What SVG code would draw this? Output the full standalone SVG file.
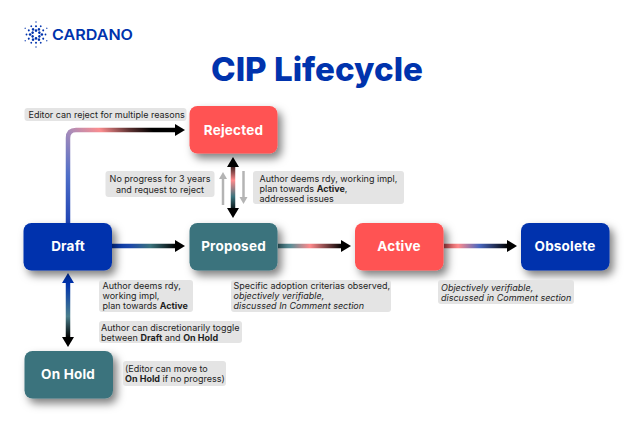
<svg xmlns="http://www.w3.org/2000/svg" xmlns:xlink="http://www.w3.org/1999/xlink" width="640" height="428" viewBox="0 0 640 428">
<style>
text{font-family:"Inter","Liberation Sans",sans-serif}
.blue{fill:#0033ad}.teal{fill:#3b737d}.red{fill:#ff5252}
.nl{fill:#fff;font-weight:700;font-size:13.5px;text-anchor:middle;letter-spacing:.2px}
.lb{fill:#e4e4e4}
.t{fill:#1e1e1e;font-size:9px}
.t .b{font-weight:700}
.i{font-style:italic}
.c{fill:none;stroke-width:4.5}
.g{fill:none;stroke:#b4b4b4;stroke-width:2.5}
.d{fill:#0033ad}
</style>
<defs>
<filter id="sh" x="-20%" y="-30%" width="150%" height="170%"><feDropShadow dx="4" dy="5" stdDeviation="4" flood-color="#000" flood-opacity=".5"/></filter>
<marker id="ab" markerUnits="userSpaceOnUse" markerWidth="11" markerHeight="13" refX="1" refY="6" orient="auto"><path d="M0,0L10,6L0,12Z" fill="#000"/></marker>
<marker id="ag" markerUnits="userSpaceOnUse" markerWidth="8" markerHeight="9" refX="1" refY="4" orient="auto"><path d="M0,0L7,4L0,8Z" fill="#b4b4b4"/></marker>
<linearGradient id="g1" gradientUnits="userSpaceOnUse" x1="68" y1="223" x2="175" y2="130"><stop offset="0" stop-color="#1f44b4"/><stop offset=".22" stop-color="#4f6fc8"/><stop offset=".43" stop-color="#a88cba"/><stop offset=".6" stop-color="#fb8d8f"/><stop offset=".76" stop-color="#5a3030"/><stop offset=".88" stop-color="#000"/></linearGradient>
<linearGradient id="g2" gradientUnits="userSpaceOnUse" x1="112" y1="0" x2="176" y2="0"><stop offset="0" stop-color="#0033ad"/><stop offset=".3" stop-color="#1e4aa8"/><stop offset=".6" stop-color="#3b737d"/><stop offset="1" stop-color="#000"/></linearGradient>
<linearGradient id="g3" gradientUnits="userSpaceOnUse" x1="278" y1="0" x2="342" y2="0"><stop offset="0" stop-color="#3b737d"/><stop offset=".2" stop-color="#5f8f98"/><stop offset=".5" stop-color="#ff8a8c"/><stop offset="1" stop-color="#000"/></linearGradient>
<linearGradient id="g4" gradientUnits="userSpaceOnUse" x1="444" y1="0" x2="508" y2="0"><stop offset="0" stop-color="#c04a50"/><stop offset=".22" stop-color="#ff8a8c"/><stop offset=".55" stop-color="#4a68c0"/><stop offset="1" stop-color="#000"/></linearGradient>
<linearGradient id="g5" gradientUnits="userSpaceOnUse" x1="0" y1="164" x2="0" y2="212"><stop offset="0" stop-color="#1a0a0a"/><stop offset=".34" stop-color="#ff8a8c"/><stop offset=".68" stop-color="#3b737d"/><stop offset="1" stop-color="#000"/></linearGradient>
<linearGradient id="g6" gradientUnits="userSpaceOnUse" x1="0" y1="284" x2="0" y2="338"><stop offset="0" stop-color="#0033ad"/><stop offset=".6" stop-color="#4b7f8c"/><stop offset="1" stop-color="#000"/></linearGradient>
<g id="rayA" fill="#0033ad"><circle cx="36" cy="30.6" r="1.3"/><circle cx="36" cy="26.2" r="1"/><circle cx="36" cy="22" r=".7"/></g>
<g id="rayB" fill="#0033ad"><circle cx="36" cy="28.6" r="1.3"/><circle cx="36" cy="25" r=".9"/></g>
</defs>
<rect width="640" height="428" fill="#fff"/>
<g id="logo">
<use xlink:href="#rayA"/><use xlink:href="#rayA" transform="rotate(60 36 34.5)"/><use xlink:href="#rayA" transform="rotate(120 36 34.5)"/><use xlink:href="#rayA" transform="rotate(180 36 34.5)"/><use xlink:href="#rayA" transform="rotate(240 36 34.5)"/><use xlink:href="#rayA" transform="rotate(300 36 34.5)"/>
<use xlink:href="#rayB" transform="rotate(30 36 34.5)"/><use xlink:href="#rayB" transform="rotate(90 36 34.5)"/><use xlink:href="#rayB" transform="rotate(150 36 34.5)"/><use xlink:href="#rayB" transform="rotate(210 36 34.5)"/><use xlink:href="#rayB" transform="rotate(270 36 34.5)"/><use xlink:href="#rayB" transform="rotate(330 36 34.5)"/>
<text x="52" y="39.5" font-size="15" font-weight="600" fill="#0033ad" textLength="81" lengthAdjust="spacingAndGlyphs">CARDANO</text>
</g>
<text id="title" x="317" y="81" font-size="33" font-weight="800" fill="#0033ad" text-anchor="middle" textLength="212" lengthAdjust="spacingAndGlyphs">CIP Lifecycle</text>
<g id="connectors">
<path class="c" stroke="url(#g1)" d="M68,223V138Q68,130 76,130H176" marker-end="url(#ab)"/>
<path class="c" stroke="url(#g2)" d="M112,246H176" marker-end="url(#ab)"/>
<path class="c" stroke="url(#g3)" d="M278,246H342" marker-end="url(#ab)"/>
<path class="c" stroke="url(#g4)" d="M444,246H508" marker-end="url(#ab)"/>
<path class="c" stroke="url(#g5)" d="M233,166V209" marker-end="url(#ab)"/>
<path d="M233,157L239,167L227,167Z"/>
<path class="c" stroke="url(#g6)" d="M68,283V338" marker-end="url(#ab)"/>
<path d="M68,273L74,283L62,283Z" class="d"/>
<path class="g" d="M223,205V178" marker-end="url(#ag)"/>
<path class="g" d="M243.500,171V198" marker-end="url(#ag)"/>
</g>
<g id="node-rejected"><rect class="red" x="189.500" y="106" width="88" height="47.500" rx="8" filter="url(#sh)"/><text class="nl" x="233.500" y="134.500">Rejected</text></g>
<g id="node-draft"><rect class="blue" x="23.500" y="223" width="88.500" height="47.500" rx="8" filter="url(#sh)"/><text class="nl" x="68" y="251">Draft</text></g>
<g id="node-proposed"><rect class="teal" x="189.500" y="223" width="88" height="47.500" rx="8" filter="url(#sh)"/><text class="nl" x="233.500" y="251">Proposed</text></g>
<g id="node-active"><rect class="red" x="355" y="223" width="88.500" height="47.500" rx="8" filter="url(#sh)"/><text class="nl" x="399" y="251">Active</text></g>
<g id="node-obsolete"><rect class="blue" x="521" y="223" width="88.500" height="47.500" rx="8" filter="url(#sh)"/><text class="nl" x="565" y="251">Obsolete</text></g>
<g id="node-onhold"><rect class="teal" x="24.500" y="351" width="88.500" height="47.500" rx="8" filter="url(#sh)"/><text class="nl" x="68" y="378.500">On Hold</text></g>
<g id="labels">
<rect class="lb" x="24.500" y="108" width="162" height="13" rx="3"/>
<text class="t" x="28.500" y="117.700">Editor can reject for multiple reasons</text>
<rect class="lb" x="105.500" y="171" width="109" height="26" rx="3"/>
<text class="t" text-anchor="middle" x="160" y="182">No progress for 3 years</text>
<text class="t" text-anchor="middle" x="160" y="193">and request to reject</text>
<rect class="lb" x="253" y="171" width="151" height="33" rx="3"/>
<text class="t" x="259.500" y="181.500">Author deems rdy, working impl,</text>
<text class="t" x="259.500" y="191.500">plan towards <tspan class="b">Active</tspan>,</text>
<text class="t" x="259.500" y="201.500">addressed issues</text>
<rect class="lb" x="99" y="280" width="94" height="32" rx="3"/>
<text class="t" x="102.500" y="289">Author deems rdy,</text>
<text class="t" x="102.500" y="299">working impl,</text>
<text class="t" x="102.500" y="309">plan towards <tspan class="b">Active</tspan></text>
<rect class="lb" x="231" y="280" width="160" height="32" rx="3"/>
<text class="t" x="233.500" y="289">Specific adoption criterias observed,</text>
<text class="t i" x="233.500" y="299">objectively verifiable,</text>
<text class="t i" x="233.500" y="309">discussed In Comment section</text>
<rect class="lb" x="438" y="280" width="136" height="24" rx="3"/>
<text class="t i" x="441" y="290.500">Objectively verifiable,</text>
<text class="t i" x="441" y="300.500">discussed in Comment section</text>
<rect class="lb" x="99" y="321" width="143" height="22" rx="3"/>
<text class="t" x="101" y="330.500">Author can discretionarily toggle</text>
<text class="t" x="101" y="340.500">between <tspan class="b">Draft</tspan> and <tspan class="b">On Hold</tspan></text>
<rect class="lb" x="123" y="361" width="103" height="25" rx="3"/>
<text class="t" x="125" y="371.500">(Editor can move to</text>
<text class="t" x="125" y="381.500"><tspan class="b">On Hold</tspan> if no progress)</text>
</g>
</svg>
